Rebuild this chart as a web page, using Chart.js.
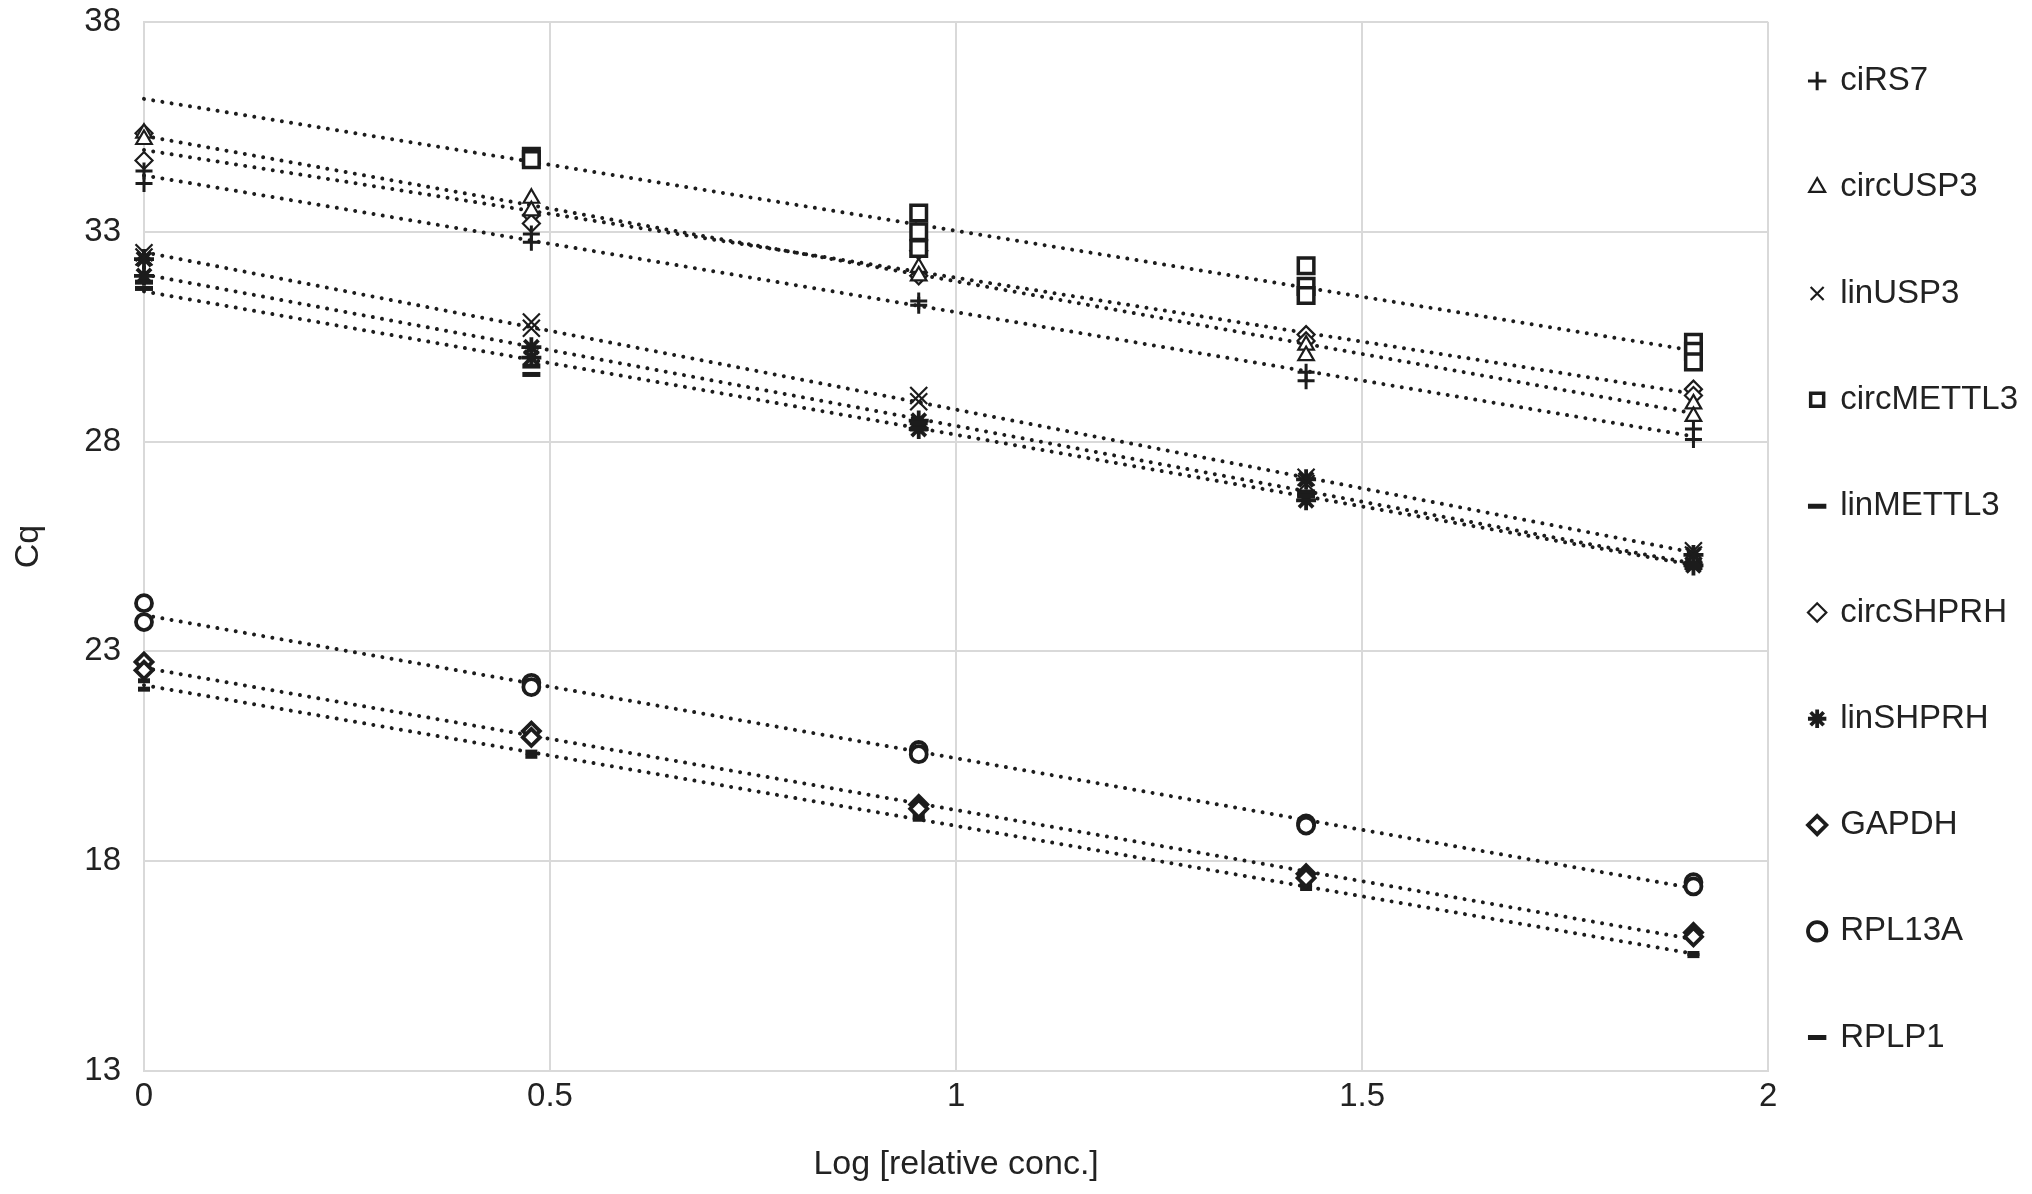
<!DOCTYPE html>
<html>
<head>
<meta charset="utf-8">
<script src="https://cdn.jsdelivr.net/npm/chart.js@4.4.1/dist/chart.umd.min.js"></script>
<style>
  html, body { margin: 0; padding: 0; background: #ffffff; }
  #wrap { width: 2032px; height: 1194px; position: relative; }
</style>
</head>
<body>
<div id="wrap"><canvas id="c"></canvas></div>
<script>
// ---- data (log relative concentration, Cq replicates) ----
const logConc = [0, 0.477, 0.954, 1.431, 1.908];
const seriesNames = ['ciRS7', 'circUSP3', 'linUSP3', 'circMETTL3', 'linMETTL3', 'circSHPRH', 'linSHPRH', 'GAPDH', 'RPL13A', 'RPLP1'];
const ciRS7      = [[34.45, 34.15], [32.95, 32.75], [31.25, 31.35], [29.65, 29.45], [28.3, 28.05]];
const circUSP3   = [[35.35, 35.2], [33.8, 33.5], [32.15, 31.95], [30.3, 30.05], [28.9, 28.6]];
const linUSP3    = [[32.5, 32.4], [30.85, 30.7], [29.1, 28.95], [27.15, 27.0], [25.4, 25.3]];
const circMETTL3 = [null, [34.8, 34.72], [33.45, 33.0, 32.6], [32.19, 31.7, 31.48], [30.37, 30.15, 29.9]];
const linMETTL3  = [[31.8, 31.65], [29.8, 29.6], [28.45, 28.3], [26.8, 26.7], [25.1, 25.0]];
const circSHPRH  = [[35.35, 34.7], [33.4, 33.2], [32.55, 31.95], [30.55, 30.4], [29.25, 29.1]];
const linSHPRH   = [[32.35, 31.95], [30.25, 30.0], [28.5, 28.3], [27.1, 26.6], [25.3, 25.05]];
const GAPDH      = [[22.75, 22.55], [21.1, 20.95], [19.35, 19.25], [17.7, 17.6], [16.3, 16.2]];
const RPL13A     = [[24.15, 23.7], [22.25, 22.15], [20.65, 20.55], [18.9, 18.85], [17.5, 17.4]];
const RPLP1      = [[22.3, 22.1], [20.6, 20.5], [19.1, 19.0], [17.45, 17.35], [15.8, 15.75]];
const seriesValues = [ciRS7, circUSP3, linUSP3, circMETTL3, linMETTL3, circSHPRH, linSHPRH, GAPDH, RPL13A, RPLP1];
const xTickValues = [0, 0.5, 1, 1.5, 2];

// ---- styles ----
const INK = '#1c1c1c';
const markerStyles = [
  { pointStyle: 'cross',    radius: 8.5,bw: 3,   fill: INK },
  { pointStyle: 'triangle', radius: 9,  bw: 2.2, fill: '#ffffff' },
  { pointStyle: 'crossRot', radius: 12, bw: 2.2, fill: INK },
  { pointStyle: 'rect',     radius: 11, bw: 3.5, fill: '#ffffff' },
  { pointStyle: 'line',     radius: 9,  bw: 5,   fill: INK },
  { pointStyle: 'rectRot',  radius: 8.5,bw: 2.2, fill: '#ffffff' },
  { pointStyle: 'star',     radius: 10, bw: 3.8, fill: INK },
  { pointStyle: 'rectRot',  radius: 8.5,bw: 3.8, fill: '#ffffff' },
  { pointStyle: 'circle',   radius: 8,  bw: 3.8, fill: '#ffffff' },
  { pointStyle: 'line',     radius: 6,  bw: 5,   fill: INK }
];

function toPoints(groups) {
  const pts = [];
  groups.forEach((g, i) => { if (g) g.forEach(v => pts.push({ x: logConc[i], y: v })); });
  return pts;
}
function trend(pts) {
  const n = pts.length;
  const mx = pts.reduce((s, p) => s + p.x, 0) / n;
  const my = pts.reduce((s, p) => s + p.y, 0) / n;
  let sxy = 0, sxx = 0;
  pts.forEach(p => { sxy += (p.x - mx) * (p.y - my); sxx += (p.x - mx) * (p.x - mx); });
  const m = sxy / sxx, b = my - m * mx;
  const x0 = logConc[0], x1 = logConc[logConc.length - 1];
  return [{ x: x0, y: b + m * x0 }, { x: x1, y: b + m * x1 }];
}

const pointSets = [], lineSets = [];
seriesNames.forEach((name, i) => {
  const pts = toPoints(seriesValues[i]);
  const st = markerStyles[i];
  pointSets.push({
    label: name, data: pts, showLine: false, order: 1, clip: false,
    pointStyle: st.pointStyle, pointRadius: st.radius, pointHoverRadius: st.radius,
    borderColor: INK, backgroundColor: st.fill, pointBorderWidth: st.bw, borderWidth: st.bw,
    pointBackgroundColor: st.fill, pointBorderColor: INK
  });
  lineSets.push({
    label: name + ' trend', isTrend: true, data: trend(pts), showLine: true, order: 2, clip: false,
    pointRadius: 0, borderColor: INK, borderWidth: 4,
    borderDash: [0.01, 9.3], borderCapStyle: 'round', fill: false
  });
});

const FONT = "'Liberation Sans', Arial, Helvetica, sans-serif";
const TXT = '#222222';
const GRID = '#d9d9d9';

new Chart(document.getElementById('c'), {
  type: 'scatter',
  data: { datasets: pointSets.concat(lineSets) },
  options: {
    responsive: true, maintainAspectRatio: false, animation: false,
    layout: { padding: { top: 22, right: 4, bottom: 0, left: 0 } },
    plugins: {
      tooltip: { enabled: false },
      legend: {
        position: 'right', align: 'start',
        labels: {
          usePointStyle: true, boxWidth: 13, boxHeight: 13, padding: 42.5,
          color: TXT, font: { family: FONT, size: 33, lineHeight: 1.933 },
          generateLabels: (chart) => {
            const items = Chart.defaults.plugins.legend.labels.generateLabels(chart);
            return items.filter(it => !chart.data.datasets[it.datasetIndex].isTrend)
                        .map(it => Object.assign(it, { text: [it.text] }));
          }
        }
      }
    },
    scales: {
      x: {
        type: 'linear', min: 0, max: 2,
        afterFit: (a) => { a.height = 123; a.paddingLeft = 0; a.paddingRight = 0; },
        afterBuildTicks: (a) => { a.ticks = xTickValues.map(v => ({ value: v })); },
        ticks: { color: TXT, font: { family: FONT, size: 33 }, padding: 6, maxRotation: 0,
                 callback: (v) => String(v) },
        grid: { color: GRID, lineWidth: 2, drawTicks: false },
        border: { color: GRID, width: 2 },
        title: { display: true, text: 'Log [relative conc.]', color: TXT,
                 font: { family: FONT, size: 34 }, padding: { top: 0, bottom: 9 } }
      },
      y: {
        type: 'linear', min: 13, max: 38,
        afterFit: (a) => { a.width = 144; a.paddingTop = 0; a.paddingBottom = 0; },
        ticks: { stepSize: 5, color: TXT, font: { family: FONT, size: 33 }, padding: 23 },
        grid: { color: GRID, lineWidth: 2, drawTicks: false },
        border: { color: GRID, width: 2 },
        title: { display: true, text: 'Cq', color: TXT,
                 font: { family: FONT, size: 34 }, padding: { top: 8, bottom: 0 } }
      }
    }
  }
});
</script>
</body>
</html>
